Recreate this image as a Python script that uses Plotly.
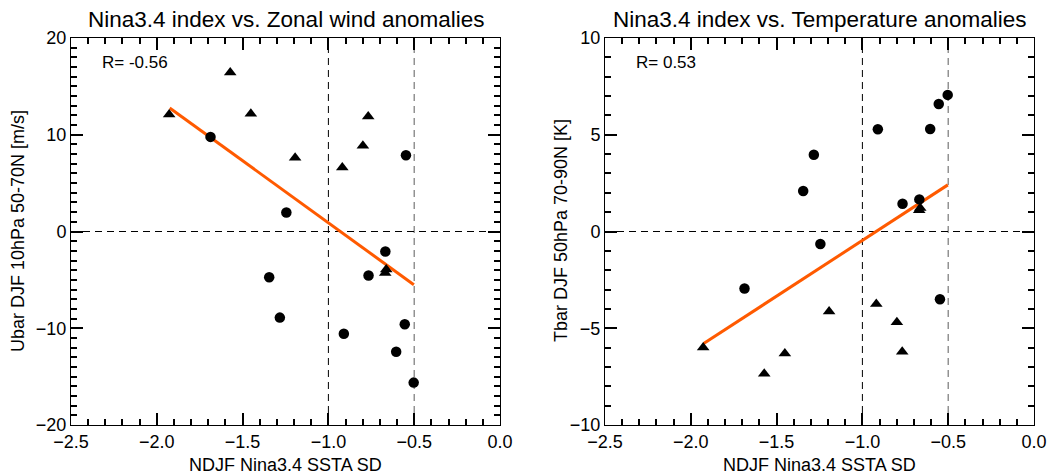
import plotly.graph_objects as go

# ---- data ----
circ_x = [-1.687, -1.345, -1.283, -1.245, -0.910, -0.766, -0.668, -0.605, -0.555, -0.548, -0.503]
circ_u = [9.78, -4.72, -8.90, 1.97, -10.56, -4.55, -2.07, -12.43, -9.58, 7.88, -15.62]
circ_t = [-2.95, 2.09, 3.97, -0.65, 5.28, 1.43, 1.66, 5.30, 6.59, -3.50, 7.06]

tri_x = [-1.928, -1.572, -1.452, -1.194, -0.919, -0.799, -0.768, -0.663, -0.669]
tri_u = [12.09, 16.43, 12.16, 7.61, 6.62, 8.86, 11.88, -3.94, -4.28]
tri_t = [-5.99, -7.35, -6.30, -4.14, -3.75, -4.69, -6.21, 1.21, 1.10]

fit_x = [-1.925, -0.502]
fit_u = [12.77, -5.50]
fit_t = [-5.79, 2.41]

titles = ["Nina3.4 index vs. Zonal wind anomalies", "Nina3.4 index vs. Temperature anomalies"]
ylabels = ["Ubar DJF 10hPa 50-70N [m/s]", "Tbar DJF 50hPa 70-90N [K]"]
xlabel = "NDJF Nina3.4 SSTA SD"
r_texts = ["R= -0.56", "R= 0.53"]

FONT = "Liberation Sans, Arial, Helvetica, sans-serif"
OFF = 8  # page body margin
W, H = 1061 - OFF, 476 - OFF
ORANGE = "#ff5a00"

fig = go.Figure()

panels = [
    dict(xa="x", ya="y", yc=circ_u, yt=tri_u, yf=fit_u),
    dict(xa="x2", ya="y2", yc=circ_t, yt=tri_t, yf=fit_t),
]
for p in panels:
    fig.add_trace(go.Scatter(x=fit_x, y=p["yf"], mode="lines", xaxis=p["xa"], yaxis=p["ya"],
                             line=dict(color=ORANGE, width=3), showlegend=False, hoverinfo="skip"))
    fig.add_trace(go.Scatter(x=circ_x, y=p["yc"], mode="markers", xaxis=p["xa"], yaxis=p["ya"],
                             marker=dict(symbol="circle", size=10.5, color="black"), showlegend=False))
    fig.add_trace(go.Scatter(x=tri_x, y=p["yt"], mode="markers", xaxis=p["xa"], yaxis=p["ya"],
                             marker=dict(symbol="triangle-up", size=11, color="black"), showlegend=False))

def px_x(v):
    return (v - OFF) / W

def px_y(v):
    return 1 - (v - OFF) / H

dom_x = [[px_x(71), px_x(500)], [px_x(605), px_x(1034)]]
dom_y = [px_y(425), px_y(38)]

layout = dict(
    width=W, height=H, autosize=False, paper_bgcolor="white", plot_bgcolor="white",
    margin=dict(l=0, r=0, t=0, b=0, pad=0, autoexpand=False), showlegend=False,
    font=dict(family=FONT, color="black"),
)

TICKC = "#000000"
yranges = [[-20, 20], [-10, 10]]
ydticks = [10, 5]
yminor = [1, 1]
for i in range(2):
    sx = "" if i == 0 else "2"
    layout["xaxis" + sx] = dict(
        domain=dom_x[i], range=[-2.5, 0.0], anchor="y" + sx,
        showgrid=False, zeroline=False, showline=True, linecolor="black", linewidth=1,
        mirror="allticks", ticks="inside", ticklen=12, tickwidth=2, tickcolor=TICKC,
        tickfont=dict(family=FONT, size=18, color="black"),
        tickmode="linear", tick0=0, dtick=0.5, tickformat=".1f",
        minor=dict(dtick=0.1, ticks="inside", ticklen=6, tickwidth=2, tickcolor=TICKC))
    layout["yaxis" + sx] = dict(
        domain=dom_y, range=yranges[i], anchor="x" + sx,
        showgrid=False, zeroline=False, showline=True, linecolor="black", linewidth=1,
        mirror="allticks", ticks="inside", ticklen=12, tickwidth=2, tickcolor=TICKC,
        tickfont=dict(family=FONT, size=18, color="black"),
        tickmode="linear", dtick=ydticks[i], tick0=0,
        minor=dict(dtick=yminor[i], ticks="inside", ticklen=6, tickwidth=2, tickcolor=TICKC))

fig.update_layout(**layout)

for i in range(2):
    sx = "" if i == 0 else "2"
    fig.add_shape(type="line", xref="x" + sx, yref="y" + sx + " domain", x0=-1.0, x1=-1.0, y0=0, y1=1,
                  line=dict(color="black", width=1, dash="7px,5px"), layer="below")
    fig.add_shape(type="line", xref="x" + sx, yref="y" + sx + " domain", x0=-0.5, x1=-0.5, y0=0, y1=1,
                  line=dict(color="#777777", width=1.2, dash="7px,5px"), layer="below")
    fig.add_shape(type="line", xref="x" + sx + " domain", yref="y" + sx, x0=0, x1=1, y0=0, y1=0,
                  line=dict(color="black", width=1, dash="7px,5px"), layer="below")

centers = [(71 + 500) / 2, (605 + 1034) / 2]
ylab_x = [18, 561]
for i in range(2):
    sx = "" if i == 0 else "2"
    fig.add_annotation(text=titles[i], xref="paper", yref="paper", x=px_x(centers[i]), y=px_y(19.5),
                       showarrow=False, font=dict(family=FONT, size=22.5, color="black"),
                       xanchor="center", yanchor="middle", borderpad=0)
    fig.add_annotation(text=xlabel, xref="paper", yref="paper", x=px_x(centers[i]), y=px_y(465),
                       showarrow=False, font=dict(family=FONT, size=18, color="black"),
                       xanchor="center", yanchor="middle")
    fig.add_annotation(text=ylabels[i], xref="paper", yref="paper", x=px_x(ylab_x[i]), y=px_y(231),
                       showarrow=False, textangle=-90, font=dict(family=FONT, size=18, color="black"),
                       xanchor="center", yanchor="middle")
    fig.add_annotation(text=r_texts[i], xref="x" + sx + " domain", yref="y" + sx + " domain",
                       x=(100 - 71) / 429, y=(425 - 62) / 387, showarrow=False,
                       font=dict(family=FONT, size=17, color="black"),
                       xanchor="left", yanchor="middle")

fig.write_html("out.html")
